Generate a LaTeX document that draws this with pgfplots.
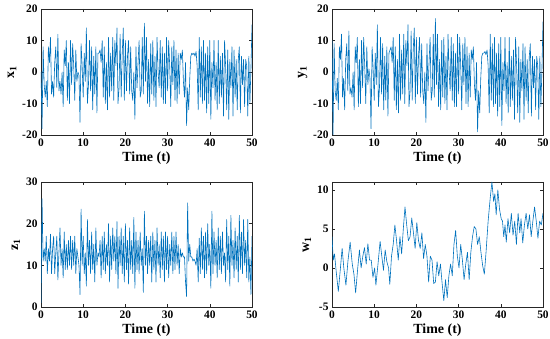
\documentclass[border=0pt]{standalone}
\usepackage{pgfplots}
\pgfplotsset{compat=1.18}
\usepackage{pgfplotstable}
\usepackage{fontspec}
\setmainfont{Liberation Serif}
\definecolor{mblue}{RGB}{0,114,189}
\definecolor{axgray}{RGB}{38,38,38}

\pgfplotstableread{
t x y
0 0 10
0.25 -18 -20
0.5 8 9
0.75 -4 -6
1.0 -8 -9
1.25 -3 -2
1.5 -11 -12
1.75 8 8
2.0 3 4
2.25 11 12
2.5 -7 -8
2.75 -3 -2
3.0 -8 -12
3.25 3 4
3.5 8 9
3.75 -5 -6
4.0 12 13
4.25 -6 -7
4.5 -3 -5
4.75 -7 -8
5.0 0 0
5.25 -11 -12
5.5 7 8
5.75 2 3
6.0 10 11
6.25 -9 -11
6.5 3 4
6.75 -10 -10
7.0 10 10
7.25 -4 -5
7.5 9 11
7.75 2 2
8.0 -9 -10
8.25 7 8
8.5 -3 -4
8.75 0 1
9.0 -1 -2
9.25 -16 -18
9.5 9 8
9.75 2 1
10.0 -8 -9
10.25 6 6
10.5 -3 -4
10.75 14 15
11.0 -10 -11
11.25 -4 -5
11.5 10 11
11.75 -6 -7
12.0 8 9
12.25 -12 -12
12.5 5 5
12.75 -7 -9
13.0 8 8
13.25 -13 -14
13.5 6 6
13.75 6 7
14.0 7 8
14.25 3 3
14.5 10 11
14.75 -8 -9
15.0 8 8
15.25 -10 -12
15.5 3 4
15.75 -12 -13
16.0 11 12
16.25 -8 -9
16.5 6 7
16.75 -6 -7
17.0 11 12
17.25 -9 -10
17.5 10 10
17.75 2 2
18.0 14 15
18.25 -10 -11
18.5 -5 -6
18.75 12 13
19.0 -8 -9
19.25 6 7
19.5 14 14
19.75 -9 -10
20.0 10 11
20.25 -6 -7
20.5 5 5
20.75 10 11
21.0 -7 -8
21.25 8 9
21.5 -6 -6
21.75 -9 -10
22.0 0 0
22.25 -15 -16
22.5 8 9
22.75 -5 -6
23.0 3 3
23.25 10 11
23.5 -8 -9
23.75 -6 -6
24.0 11 12
24.25 -7 -8
24.5 15.5 17
24.75 -3 -4
25.0 11 12
25.25 -10 -11
25.5 4 4
25.75 -11 -12
26.0 9 10
26.25 -7 -8
26.5 10 11
26.75 -9 -10
27.0 5 5
27.25 -11 -12
27.5 11 12
27.75 0 0
28.0 -5 -6
28.25 10 11
28.5 -8 -9
28.75 8 9
29.0 -10 -11
29.25 6 6
29.5 -10 -11
29.75 11 12
30.0 -6 -7
30.25 10 11
30.5 2 2
30.75 -11 -12
31.0 8 9
31.25 -4 -4
31.5 10 11
31.75 -9 -10
32.0 7 8
32.25 -10 -11
32.5 6 6
32.75 -7 -8
33.0 6 7
33.25 4 4
33.5 7 8
33.75 -3 -4
34.0 -8 -9
34.25 3 3
34.5 -17 -19
34.75 -5 -6
35.0 -12 -13
35.25 -2 -2
35.5 5 5
35.75 6 6
36.0 5.5 6
36.25 6 6.5
36.5 5 5.5
36.75 6.5 7
37.0 2 2
37.25 -12 -13
37.5 11 12
37.75 -8 -9
38.0 8 9
38.25 -10 -11
38.5 10 11
38.75 -9 -10
39.0 6 6
39.25 -13 -14
39.5 8 9
39.75 -10 -11
40.0 10 11
40.25 -15 -17
40.5 3 3
40.75 -5 -6
41.0 10 11
41.25 -9 -10
41.5 3 3
41.75 -12 -13
42.0 10 11
42.25 -10 -11
42.5 5 5
42.75 -8 -9
43.0 6 7
43.25 -14 -15
43.5 10 11
43.75 2 2
44.0 -12 -13
44.25 7 8
44.5 -15 -16
44.75 4 4
45.0 -5 -6
45.25 8 9
45.5 -14 -15
45.75 7 8
46.0 -8 -9
46.25 4 4
46.5 -12 -13
46.75 4 5
47.0 8 9
47.25 -13 -14
47.5 5 5
47.75 -4 -5
48.0 4 4
48.25 -11 -12
48.5 4 5
48.75 2 2
49.0 -14 -15
49.25 5 5
49.5 -10 -11
49.75 1 1
50.0 15 16
}\dataxy

\pgfplotstableread{
t z
0 1
0.25 26
0.5 11
0.75 14
1.0 11
1.25 17
1.5 8
1.75 14
2.0 11
2.25 17.5
2.5 8
2.75 14
3.0 17
3.25 8
3.5 13
3.75 17
4.0 6.5
4.25 13
4.5 19
4.75 10
5.0 14
5.25 7
5.5 18
5.75 9
6.0 15
6.25 9
6.5 16
6.75 10
7.0 17
7.25 9
7.5 16
7.75 10
8.0 17
8.25 8
8.5 14
8.75 12
9.0 10
9.25 3
9.5 23.5
9.75 10
10.0 17
10.25 8
10.5 13
10.75 5
11.0 21
11.25 10
11.5 16
11.75 8
12.0 18
12.25 9
12.5 15
12.75 6
13.0 19
13.25 10
13.5 13
13.75 12
14.0 16
14.25 7
14.5 17
14.75 9
15.0 18
15.25 8
15.5 15
15.75 10
16.0 20
16.25 6
16.5 17
16.75 9
17.0 19
17.25 11
17.5 17
17.75 8
18.0 20.5
18.25 4.5
18.5 17
18.75 10
19.0 19
19.25 8
19.5 17
19.75 6
20.0 20
20.25 9
20.5 16
20.75 5.5
21.0 19
21.25 9
21.5 16
21.75 8
22.0 21.5
22.25 4.5
22.5 18
22.75 9
23.0 16
23.25 8
23.5 18
23.75 10
24.0 14
24.25 3.5
24.5 23
24.75 10
25.0 17
25.25 8
25.5 16
25.75 10
26.0 17
26.25 6
26.5 18
26.75 9
27.0 16
27.25 6
27.5 19
27.75 10
28.0 15
28.25 7
28.5 18
28.75 9
29.0 17
29.25 6
29.5 18
29.75 9
30.0 17
30.25 7
30.5 15
30.75 10
31.0 18
31.25 8
31.5 17
31.75 9
32.0 18
32.25 10
32.5 15
32.75 8
33.0 14
33.25 12
33.5 13
33.75 12
34.0 12
34.25 6
34.5 2.5
34.75 25
35.0 11
35.25 15
35.5 12
35.75 12
36.0 11
36.25 11.5
36.5 11
36.75 10
37.0 14
37.25 6
37.5 16.5
37.75 8
38.0 19
38.25 9
38.5 17
38.75 7
39.0 18
39.25 8
39.5 20
39.75 10
40.0 15
40.25 4.5
40.5 23
40.75 8
41.0 18
41.25 10
41.5 16
41.75 7
42.0 19
42.25 9
42.5 17
42.75 8
43.0 18
43.25 10
43.5 13
43.75 6
44.0 21
44.25 9
44.5 17
44.75 5
45.0 22
45.25 10
45.5 16
45.75 7
46.0 19
46.25 9
46.5 17
46.75 6
47.0 22
47.25 9
47.5 18
47.75 8
48.0 21
48.25 10
48.5 16
48.75 7
49.0 21
49.25 6
49.5 12
49.75 3
50.0 17
}\dataz

\pgfplotstableread{
t w
0 4
0.3 1
0.6 1.8
1.0 -0.5
1.5 -3
2.0 0
2.4 2.5
2.8 0
3.3 -2.2
3.8 1
4.3 3.3
4.8 0.5
5.2 -0.8
5.6 -3.2
6.1 0
6.5 2.3
6.9 0
7.3 1.5
7.7 2.6
8.1 0.5
8.5 3.1
8.9 1
9.3 1
9.7 -1.2
10.1 0
10.4 -2.2
10.9 0.5
11.4 3.4
11.8 1.5
12.2 -0.3
12.6 2.3
13.0 0.8
13.4 0
13.7 -2.1
14.1 1.5
14.5 3
14.9 5.5
15.3 3.5
15.7 1
16.1 4
16.5 1.8
16.9 5
17.3 7.8
17.7 5.5
18.1 3.5
18.5 4
18.9 6.4
19.3 4.5
19.7 2.5
20.1 5.8
20.5 3.5
20.9 2.5
21.3 4.5
21.7 1.2
22.1 3
22.5 1.5
22.9 -1.8
23.3 1.5
23.7 1
24.1 -2
24.5 -1.8
24.9 0.8
25.3 -1
25.7 0.5
26.1 -2
26.5 -4.2
26.9 -1.5
27.3 -3.8
27.7 -1
28.1 0.5
28.5 -1
28.9 3
29.3 4.8
29.7 1.5
30.1 0
30.5 3
30.9 1
31.3 -1.5
31.7 0.5
32.1 2
32.5 -1.5
32.9 2
33.3 4
33.7 5.3
34.1 5
34.5 3
34.9 4
35.3 2
35.7 0.3
36.1 -0.8
36.5 2
37.0 6
37.5 9
37.9 11
38.3 8.5
38.6 9.5
38.9 6.8
39.3 10
39.7 7.5
40.1 6.3
40.4 6
40.7 4
41.0 5.5
41.3 3.3
41.7 6.3
42.1 4.5
42.5 7
42.9 4.2
43.3 6
43.7 3
44.1 7
44.5 4.5
44.8 6.3
45.2 3.2
45.6 5.5
46.0 7
46.4 5
46.8 6.8
47.2 4
47.6 6
48.0 7.8
48.4 6
48.8 3.8
49.2 6
49.6 5.5
50.0 7
}\dataw

\pgfplotsset{
  every axis/.style={
    scale only axis, width=211bp, height=126bp,
    anchor=south west,
    xmin=0, xmax=50, xtick={0,10,...,50},
    axis line style={axgray, line width=0.5pt},
    tick style={axgray, line width=0.5pt},
    major tick length=3bp,
    tick pos=both,
    tick label style={font=\fontsize{11.5}{12}\selectfont\bfseries},
    label style={font=\fontsize{14}{15}\selectfont\bfseries},
    /pgf/number format/assume math mode=true,
    xlabel={Time (t)},
    xticklabel style={yshift=0bp},
    xlabel style={yshift=1bp},
    ylabel style={yshift=-1bp},
  },
}

\begin{document}
\begin{tikzpicture}
\path[use as bounding box] (0,0) rectangle (550bp,339bp);
\begin{axis}[at={(41bp,204bp)}, ymin=-20, ymax=20, ytick={-20,-10,0,10,20},
  ylabel={x\textsubscript{1}}]
\addplot[mblue, line width=0.6pt, line join=round] table[x=t,y=x] {\dataxy};
\end{axis}
\begin{axis}[at={(332bp,204bp)}, ymin=-20, ymax=20, ytick={-20,-10,0,10,20},
  ylabel={y\textsubscript{1}}]
\addplot[mblue, line width=0.6pt, line join=round] table[x=t,y=y] {\dataxy};
\end{axis}
\begin{axis}[at={(41bp,32bp)}, height=125bp, ymin=0, ymax=30, ytick={0,10,20,30},
  ylabel={z\textsubscript{1}}]
\addplot[mblue, line width=0.6pt, line join=round] table[x=t,y=z] {\dataz};
\end{axis}
\begin{axis}[at={(332bp,32bp)}, height=125bp, ymin=-5, ymax=11, ytick={-5,0,5,10},
  ylabel={w\textsubscript{1}}]
\addplot[mblue, line width=0.6pt, line join=round] table[x=t,y=w] {\dataw};
\end{axis}
\end{tikzpicture}
\end{document}
